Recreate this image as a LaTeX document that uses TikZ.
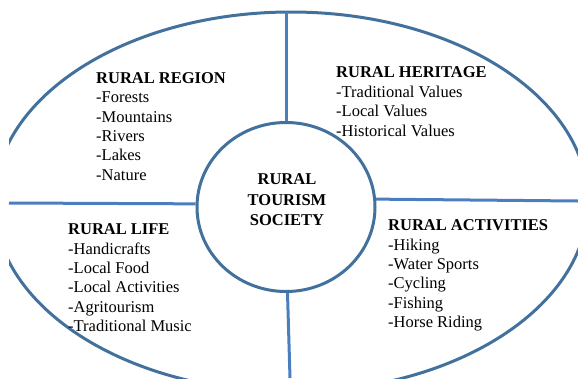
\documentclass[tikz,border=0pt]{standalone}
\usepackage{fontspec}
\setmainfont{Liberation Serif}
\usetikzlibrary{shapes,positioning}
\definecolor{rimblue}{HTML}{41719C}
\definecolor{spokeblue}{HTML}{4A7EBF}

\begin{document}
\begin{tikzpicture}[
    x=1pt, y=-1pt,
    rim/.style={draw=rimblue, line width=3pt},
    spoke/.style={draw=spokeblue, line width=3pt},
    hubring/.style={ellipse, draw=rimblue, line width=3pt, minimum width=178pt, minimum height=169pt, inner sep=0pt},
    sector/.style={align=left, inner sep=0pt, anchor=base west, font=\fontsize{16.5}{19.4}\selectfont},
    title/.style={align=center, inner sep=0pt, anchor=base, font=\fontsize{16.5}{20.2}\selectfont\bfseries}
]
\useasboundingbox (0,0) rectangle (578,378);

% Outer ring (cut by the page edges)
\begin{scope}
\clip (9,0) rectangle (578,378);
\draw[rim] (291,202) ellipse [x radius=297, y radius=190];
\end{scope}

% Rim points
\coordinate (rimtop) at (286,12);
\coordinate (rimleft) at (9,203);
\coordinate (rimright) at (578,201);
\coordinate (rimbottom) at (290,378);

% Centre
\node[hubring] (hub) at (286,207) {};
\node[title] (hubtext) at (287,225.3) {RURAL\\TOURISM\\SOCIETY};

% Spokes
\draw[spoke] (hub.north) -- (rimtop);
\draw[spoke] (hub.178) -- (rimleft);
\draw[spoke] (hub.5) -- (rimright);
\draw[spoke] (hub.-89) -- (rimbottom);

% Sectors (placed by the baseline of their last line)
\node[sector] (region) at (96,180.3) {\textbf{RURAL REGION}\\-Forests\\-Mountains\\-Rivers\\-Lakes\\-Nature};
\node[sector] (heritage) at (336,136) {\textbf{RURAL HERITAGE}\\-Traditional Values\\-Local Values\\-Historical Values};
\node[sector] (life) at (68,331.7) {\textbf{RURAL LIFE}\\-Handicrafts\\-Local Food\\-Local Activities\\-Agritourism\\-Traditional Music};
\node[sector] (activities) at (388,327.7) {\textbf{RURAL ACTIVITIES}\\-Hiking\\-Water Sports\\-Cycling\\-Fishing\\-Horse Riding};

\end{tikzpicture}
\end{document}
